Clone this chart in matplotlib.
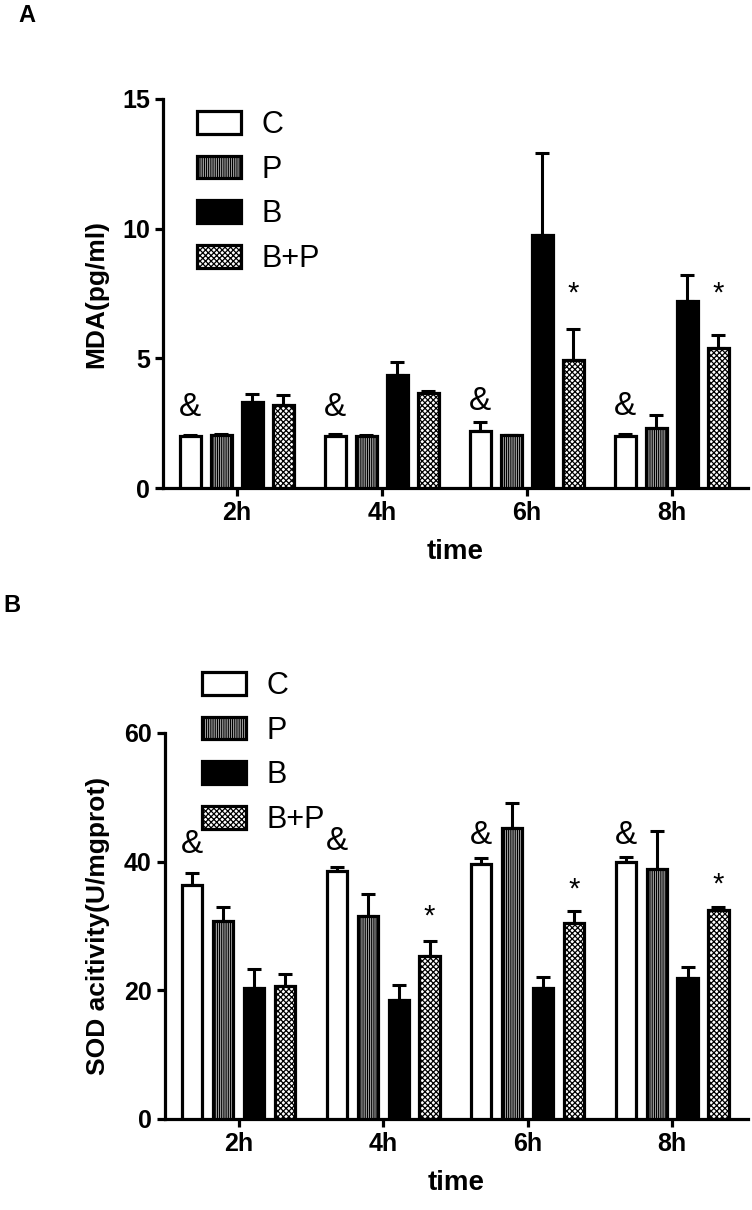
import matplotlib
matplotlib.use("Agg")
import matplotlib.pyplot as plt
from matplotlib import font_manager as fm
import numpy as np

# avoid "Liberation Sans Narrow" being picked for bold text
fm.fontManager.ttflist = [f for f in fm.fontManager.ttflist
                          if 'Narrow' not in f.name and 'Narrow' not in f.fname]
plt.rcParams['font.family'] = ['Liberation Sans', 'DejaVu Sans']
plt.rcParams['hatch.linewidth'] = 0.9

times = ["2h", "4h", "6h", "8h"]
groups = ["C", "P", "B", "B+P"]

# Panel A: MDA (pg/ml) means and upper error bars
mda_C = [2.0, 2.0, 2.2, 2.0]
mda_P = [2.05, 2.0, 2.05, 2.3]
mda_B = [3.3, 4.35, 9.75, 7.2]
mda_BP = [3.2, 3.65, 4.95, 5.4]
mda_C_err = [0.05, 0.1, 0.35, 0.08]
mda_P_err = [0.05, 0.05, 0.0, 0.5]
mda_B_err = [0.33, 0.5, 3.15, 1.0]
mda_BP_err = [0.38, 0.08, 1.2, 0.5]
mda_amp = [3.1, 3.1, 3.33, 3.14]
mda_star = [None, None, 7.5, 7.5]

# Panel B: SOD activity (U/mgprot)
sod_C = [36.4, 38.6, 39.6, 39.9]
sod_P = [30.8, 31.6, 45.2, 38.8]
sod_B = [20.3, 18.5, 20.4, 21.9]
sod_BP = [20.6, 25.3, 30.5, 32.5]
sod_C_err = [1.8, 0.6, 1.0, 0.9]
sod_P_err = [2.1, 3.4, 3.9, 6.0]
sod_B_err = [3.0, 2.4, 1.7, 1.8]
sod_BP_err = [1.9, 2.4, 1.8, 0.5]
sod_amp = [42.6, 43.1, 44.0, 44.0]
sod_star = [None, 31.5, 35.6, 36.5]

styles = [
    dict(facecolor='white', hatch=None),
    dict(facecolor='white', hatch='|||||||||'),
    dict(facecolor='black', hatch=None),
    dict(facecolor='white', hatch='xxxxxx'),
]

W, H = 752, 1210
fig = plt.figure(figsize=(W / 100, H / 100), dpi=100)

def px_axes(l, t, r, b):
    return fig.add_axes([l / W, 1 - b / H, (r - l) / W, (b - t) / H])

ax1 = px_axes(163, 99, 748, 488)
ax2 = px_axes(165, 733, 748, 1119)

step = 0.2138
bw = 0.14
x = np.arange(len(times))

def draw(ax, means, errs, amp, star, ylim, yticks, ylabel, legend_pos):
    handles = []
    for i, (m, e, st) in enumerate(zip(means, errs, styles)):
        xs = x + (i - 1.5) * step
        b = ax.bar(xs, m, width=bw, facecolor=st['facecolor'], edgecolor='black',
                   linewidth=2.3, hatch=st['hatch'], label=groups[i], zorder=3)
        handles.append(b)
        ax.errorbar(xs, m, yerr=[np.zeros(len(m)), e], fmt='none', ecolor='black',
                    elinewidth=2.2, capsize=5, capthick=2.2, zorder=2)
    for j, a in enumerate(amp):
        ax.text(x[j] - 1.5 * step, a, "&", ha='center', va='center', fontsize=24, zorder=4)
    for j, s in enumerate(star):
        if s is not None:
            ax.text(x[j] + 1.5 * step, s, "*", ha='center', va='center', fontsize=21,
                    zorder=4)
    ax.set_xlim(-0.51, 3.525)
    ax.set_ylim(*ylim)
    ax.set_yticks(yticks)
    ax.set_xticks(x)
    ax.set_xticklabels(times)
    for sp in ['top', 'right']:
        ax.spines[sp].set_visible(False)
    for sp in ['left', 'bottom']:
        ax.spines[sp].set_linewidth(2.3)
    ax.tick_params(axis='both', width=2.3, length=6, labelsize=18, direction='out')
    for lab in ax.get_xticklabels() + ax.get_yticklabels():
        lab.set_fontweight('bold')
    ax.set_xlabel("time", fontsize=20, fontweight='bold', labelpad=10)
    ax.set_ylabel(ylabel, fontsize=19, fontweight='bold', labelpad=10)
    leg = ax.legend(handles=handles, loc='upper left',
                    bbox_to_anchor=(legend_pos[0] / W, 1 - legend_pos[1] / H),
                    bbox_transform=fig.transFigure, frameon=False, fontsize=22,
                    handlelength=1.45, handleheight=0.75, labelspacing=0.48,
                    handletextpad=0.65, borderpad=0, borderaxespad=0)
    for p in leg.get_patches():
        p.set_linewidth(2.3)

draw(ax1, [mda_C, mda_P, mda_B, mda_BP], [mda_C_err, mda_P_err, mda_B_err, mda_BP_err],
     mda_amp, mda_star, (0, 15), [0, 5, 10, 15], "MDA(pg/ml)", (197, 110))
draw(ax2, [sod_C, sod_P, sod_B, sod_BP], [sod_C_err, sod_P_err, sod_B_err, sod_BP_err],
     sod_amp, sod_star, (0, 60), [0, 20, 40, 60], "SOD acitivity(U/mgprot)", (202, 671))

fig.text(18 / W, 1 - 15 / H, "A", fontsize=17, fontweight='bold', va='center', ha='left')
fig.text(3 / W, 1 - 605 / H, "B", fontsize=17, fontweight='bold', va='center', ha='left')

fig.savefig("out.png", dpi=100)
